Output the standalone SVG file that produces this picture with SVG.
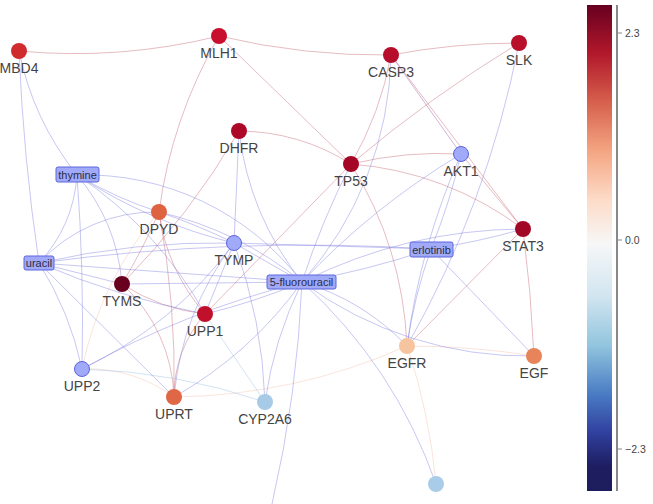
<svg xmlns="http://www.w3.org/2000/svg" width="653" height="504" viewBox="0 0 653 504">
<style>
.e{fill:none;stroke-width:0.9}
.b{stroke:#7474e0;stroke-opacity:.45}
.r{stroke:#c25a68;stroke-opacity:.45}
.p{stroke:#9a5aa8;stroke-opacity:.5}
.f{stroke:#f2b49a;stroke-opacity:.4}
.lb{stroke:#9cc2e6;stroke-opacity:.5}
.lbl{font-family:"Liberation Sans",Arial,sans-serif;font-size:14px;fill:#444;text-anchor:middle}
.box rect{fill:#a0aaf8;stroke:#5c64dc;stroke-width:1}
.box text{font-family:"Liberation Sans",Arial,sans-serif;font-size:11px;fill:#2c2c44;text-anchor:middle}
.pw{fill:#a0aaf8;stroke:#5c64dc;stroke-width:1}
.tk{font-family:"Liberation Sans",Arial,sans-serif;font-size:10.5px;fill:#444}
</style>
<defs>
<linearGradient id="cb" x1="0" y1="0" x2="0" y2="1">
<stop offset="0" stop-color="#67001f"/>
<stop offset="0.1" stop-color="#b2182b"/>
<stop offset="0.2" stop-color="#d6604d"/>
<stop offset="0.3" stop-color="#f4a582"/>
<stop offset="0.4" stop-color="#fddbc7"/>
<stop offset="0.49" stop-color="#f7f7f7"/>
<stop offset="0.6" stop-color="#d1e5f0"/>
<stop offset="0.7" stop-color="#92c5de"/>
<stop offset="0.8" stop-color="#4a7cc4"/>
<stop offset="0.88" stop-color="#30409e"/>
<stop offset="0.95" stop-color="#1d1d60"/>
<stop offset="1" stop-color="#1d1d5e"/>
</linearGradient>
</defs>
<rect width="653" height="504" fill="#fff"/>
<g id="edges" class="e">
<path class="r" d="M19 51 A600 600 0 0 0 219 36"/>
<path class="r" d="M219 36 A700 700 0 0 0 391 55"/>
<path class="r" d="M391 55 A680 680 0 0 1 519 43"/>
<path class="r" d="M219 36 L351 164"/>
<path class="r" d="M219 36 A480 480 0 0 0 159 212"/>
<path class="r" d="M239 131 A214 214 0 0 1 351 164"/>
<path class="r" d="M239 131 A776 776 0 0 1 122 284"/>
<path class="r" d="M391 55 A336 336 0 0 1 351 164"/>
<path class="r" d="M519 43 A1340 1340 0 0 0 351 164"/>
<path class="r" d="M391 55 L523 229"/>
<path class="p" d="M391 55 L461 154"/>
<path class="r" d="M351 164 A380 380 0 0 1 461 154"/>
<path class="r" d="M351 164 A326 326 0 0 1 523 229"/>
<path class="r" d="M461 154 L523 229"/>
<path class="r" d="M351 164 A376 376 0 0 1 407 346"/>
<path class="r" d="M523 229 L407 346"/>
<path class="r" d="M523 229 A1500 1500 0 0 1 534 356"/>
<path class="f" d="M407 346 A800 800 0 0 1 534 356"/>
<path class="r" d="M351 164 L205 314"/>
<path class="r" d="M159 212 A196 196 0 0 0 205 314"/>
<path class="r" d="M122 284 A190 190 0 0 0 205 314"/>
<path class="r" d="M122 284 A160 160 0 0 1 174 397"/>
<path class="r" d="M159 212 A900 900 0 0 1 174 397"/>
<path class="r" d="M205 314 A124 124 0 0 0 174 397"/>
<path class="f" d="M82 369 A144 144 0 0 1 174 397"/>
<path class="f" d="M82 369 A350 350 0 0 1 159 212"/>
<path class="r" d="M159 212 A600 600 0 0 1 122 284"/>
<path class="f" d="M174 397 A590 590 0 0 0 407 346"/>
<path class="f" d="M407 346 A600 600 0 0 1 436 484"/>
<path class="lb" d="M205 314 L265 402"/>
<path class="lb" d="M82 369 A618 618 0 0 1 265 402"/>
<path class="b" d="M19 51 A293 293 0 0 0 77 175"/>
<path class="b" d="M19 51 A2000 2000 0 0 0 39 263"/>
<path class="b" d="M77 175 A144 144 0 0 1 39 263"/>
<path class="b" d="M77 175 A2000 2000 0 0 1 82 369"/>
<path class="b" d="M77 175 A400 400 0 0 0 159 212"/>
<path class="b" d="M77 175 A193 193 0 0 1 122 284"/>
<path class="b" d="M77 175 A500 500 0 0 0 234 243"/>
<path class="b" d="M77 175 A400 400 0 0 1 205 314"/>
<path class="b" d="M77 175 A273 273 0 0 1 302 282"/>
<path class="b" d="M39 263 A158 158 0 0 1 159 212"/>
<path class="b" d="M39 263 A800 800 0 0 1 234 243"/>
<path class="b" d="M39 263 L302 282"/>
<path class="b" d="M39 263 L122 284"/>
<path class="b" d="M39 263 A800 800 0 0 0 205 314"/>
<path class="b" d="M39 263 A325 325 0 0 1 82 369"/>
<path class="b" d="M39 263 L174 397"/>
<path class="b" d="M39 263 A2000 2000 0 0 1 431 249"/>
<path class="b" d="M239 131 L234 243"/>
<path class="b" d="M239 131 A300 300 0 0 0 302 282"/>
<path class="b" d="M234 243 L302 282"/>
<path class="b" d="M234 243 L205 314"/>
<path class="b" d="M234 243 A400 400 0 0 1 82 369"/>
<path class="b" d="M234 243 A300 300 0 0 0 174 397"/>
<path class="b" d="M234 243 A500 500 0 0 1 265 402"/>
<path class="b" d="M234 243 L431 249"/>
<path class="b" d="M159 212 A350 350 0 0 1 302 282"/>
<path class="b" d="M159 212 A600 600 0 0 1 234 243"/>
<path class="b" d="M122 284 L302 282"/>
<path class="b" d="M205 314 A600 600 0 0 0 302 282"/>
<path class="b" d="M82 369 A900 900 0 0 1 302 282"/>
<path class="b" d="M174 397 A400 400 0 0 0 302 282"/>
<path class="b" d="M265 402 A400 400 0 0 1 302 282"/>
<path class="b" d="M302 282 A1200 1200 0 0 1 272 504"/>
<path class="b" d="M302 282 A495 495 0 0 1 436 484"/>
<path class="b" d="M302 282 A240 240 0 0 1 407 346"/>
<path class="b" d="M302 282 A379 379 0 0 0 534 356"/>
<path class="b" d="M302 282 A900 900 0 0 0 431 249"/>
<path class="b" d="M302 282 A500 500 0 0 1 523 229"/>
<path class="b" d="M302 282 A740 740 0 0 1 461 154"/>
<path class="b" d="M302 282 A800 800 0 0 1 351 164"/>
<path class="b" d="M302 282 A350 350 0 0 0 391 55"/>
<path class="b" d="M431 249 A700 700 0 0 0 523 229"/>
<path class="b" d="M431 249 A600 600 0 0 0 461 154"/>
<path class="b" d="M519 43 A1000 1000 0 0 1 407 346"/>
<path class="b" d="M461 154 A707 707 0 0 0 407 346"/>
<path class="b" d="M431 249 A500 500 0 0 0 407 346"/>
<path class="b" d="M431 249 L534 356"/>
</g>
<g id="node-MBD4"><circle cx="19" cy="51" r="8" fill="#d02b2d"/><text class="lbl" x="19" y="73">MBD4</text></g>
<g id="node-MLH1"><circle cx="219" cy="36" r="8" fill="#c8102e"/><text class="lbl" x="219" y="58">MLH1</text></g>
<g id="node-CASP3"><circle cx="391" cy="55" r="8" fill="#b50d2a"/><text class="lbl" x="391" y="77">CASP3</text></g>
<g id="node-SLK"><circle cx="519" cy="43" r="8" fill="#b8102b"/><text class="lbl" x="519" y="65">SLK</text></g>
<g id="node-DHFR"><circle cx="239" cy="131" r="8" fill="#ad0828"/><text class="lbl" x="239" y="153">DHFR</text></g>
<g id="node-TP53"><circle cx="351" cy="164" r="8" fill="#a50626"/><text class="lbl" x="351" y="186">TP53</text></g>
<g id="node-AKT1"><circle class="pw" cx="461" cy="154" r="7.5"/><text class="lbl" x="461" y="176">AKT1</text></g>
<g id="node-DPYD"><circle cx="159" cy="212" r="8" fill="#de6340"/><text class="lbl" x="159" y="234">DPYD</text></g>
<g id="node-TYMP"><circle class="pw" cx="234" cy="243" r="7.5"/><text class="lbl" x="234" y="265">TYMP</text></g>
<g id="node-STAT3"><circle cx="523" cy="229" r="8" fill="#a30726"/><text class="lbl" x="523" y="251">STAT3</text></g>
<g id="node-TYMS"><circle cx="122" cy="284" r="8" fill="#6a0020"/><text class="lbl" x="122" y="306">TYMS</text></g>
<g id="node-UPP1"><circle cx="205" cy="314" r="8" fill="#c0102b"/><text class="lbl" x="205" y="336">UPP1</text></g>
<g id="node-EGFR"><circle cx="407" cy="346" r="8" fill="#f6c59f"/><text class="lbl" x="407" y="368">EGFR</text></g>
<g id="node-EGF"><circle cx="534" cy="356" r="8" fill="#e8845a"/><text class="lbl" x="534" y="378">EGF</text></g>
<g id="node-UPP2"><circle class="pw" cx="82" cy="369" r="7.5"/><text class="lbl" x="82" y="391">UPP2</text></g>
<g id="node-UPRT"><circle cx="174" cy="397" r="8" fill="#e06745"/><text class="lbl" x="174" y="419">UPRT</text></g>
<g id="node-CYP2A6"><circle cx="265" cy="402" r="8" fill="#a7cbe6"/><text class="lbl" x="265" y="424">CYP2A6</text></g>
<g id="node-bottom"><circle cx="436" cy="484" r="8" fill="#a9cde8"/></g>
<g id="node-thymine" class="box"><rect x="56" y="167" width="43" height="15" rx="2"/><text x="77.5" y="178.5">thymine</text></g>
<g id="node-uracil" class="box"><rect x="24" y="256" width="30" height="14" rx="2"/><text x="39" y="267">uracil</text></g>
<g id="node-5-fluorouracil" class="box"><rect x="267" y="275" width="69" height="14" rx="2"/><text x="301.5" y="286">5-fluorouracil</text></g>
<g id="node-erlotinib" class="box"><rect x="410" y="242" width="43" height="15" rx="2"/><text x="431.5" y="253.5">erlotinib</text></g>
<g id="colorbar">
<rect x="587" y="5" width="25" height="486" fill="url(#cb)"/>
<line x1="617" y1="5" x2="617" y2="491" stroke="#888" stroke-width="2"/>
<line x1="617" y1="33" x2="622" y2="33" stroke="#888" stroke-width="1"/>
<line x1="617" y1="240" x2="622" y2="240" stroke="#888" stroke-width="1"/>
<line x1="617" y1="449" x2="622" y2="449" stroke="#888" stroke-width="1"/>
<text class="tk" x="625" y="37">2.3</text>
<text class="tk" x="625" y="244">0.0</text>
<text class="tk" x="625" y="453">−2.3</text>
</g>
</svg>
